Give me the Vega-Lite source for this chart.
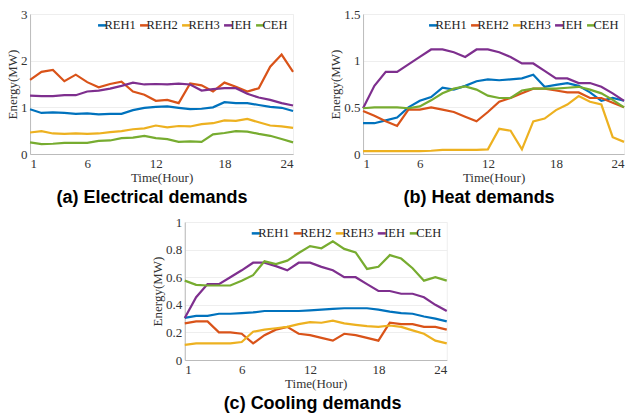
{
  "$schema": "https://vega.github.io/schema/vega-lite/v6.json",
  "padding": {"left": 6, "top": 7, "right": 0, "bottom": 0},
  "background": "white",
  "datasets": {
    "elec": [
      {"h":1,"s":"REH1","v":0.96},{"h":2,"s":"REH1","v":0.88},{"h":3,"s":"REH1","v":0.89},{"h":4,"s":"REH1","v":0.88},{"h":5,"s":"REH1","v":0.86},{"h":6,"s":"REH1","v":0.87},{"h":7,"s":"REH1","v":0.85},{"h":8,"s":"REH1","v":0.86},{"h":9,"s":"REH1","v":0.86},{"h":10,"s":"REH1","v":0.94},{"h":11,"s":"REH1","v":0.99},{"h":12,"s":"REH1","v":1.01},{"h":13,"s":"REH1","v":1.02},{"h":14,"s":"REH1","v":0.99},{"h":15,"s":"REH1","v":0.96},{"h":16,"s":"REH1","v":0.97},{"h":17,"s":"REH1","v":1.0},{"h":18,"s":"REH1","v":1.11},{"h":19,"s":"REH1","v":1.09},{"h":20,"s":"REH1","v":1.09},{"h":21,"s":"REH1","v":1.05},{"h":22,"s":"REH1","v":1.01},{"h":23,"s":"REH1","v":0.99},{"h":24,"s":"REH1","v":0.92},
      {"h":1,"s":"REH2","v":1.59},{"h":2,"s":"REH2","v":1.76},{"h":3,"s":"REH2","v":1.8},{"h":4,"s":"REH2","v":1.56},{"h":5,"s":"REH2","v":1.7},{"h":6,"s":"REH2","v":1.54},{"h":7,"s":"REH2","v":1.43},{"h":8,"s":"REH2","v":1.5},{"h":9,"s":"REH2","v":1.55},{"h":10,"s":"REH2","v":1.34},{"h":11,"s":"REH2","v":1.27},{"h":12,"s":"REH2","v":1.14},{"h":13,"s":"REH2","v":1.16},{"h":14,"s":"REH2","v":1.09},{"h":15,"s":"REH2","v":1.51},{"h":16,"s":"REH2","v":1.47},{"h":17,"s":"REH2","v":1.34},{"h":18,"s":"REH2","v":1.53},{"h":19,"s":"REH2","v":1.44},{"h":20,"s":"REH2","v":1.34},{"h":21,"s":"REH2","v":1.41},{"h":22,"s":"REH2","v":1.87},{"h":23,"s":"REH2","v":2.13},{"h":24,"s":"REH2","v":1.76},
      {"h":1,"s":"REH3","v":0.46},{"h":2,"s":"REH3","v":0.49},{"h":3,"s":"REH3","v":0.44},{"h":4,"s":"REH3","v":0.43},{"h":5,"s":"REH3","v":0.44},{"h":6,"s":"REH3","v":0.43},{"h":7,"s":"REH3","v":0.44},{"h":8,"s":"REH3","v":0.47},{"h":9,"s":"REH3","v":0.49},{"h":10,"s":"REH3","v":0.53},{"h":11,"s":"REH3","v":0.55},{"h":12,"s":"REH3","v":0.61},{"h":13,"s":"REH3","v":0.57},{"h":14,"s":"REH3","v":0.6},{"h":15,"s":"REH3","v":0.59},{"h":16,"s":"REH3","v":0.64},{"h":17,"s":"REH3","v":0.66},{"h":18,"s":"REH3","v":0.72},{"h":19,"s":"REH3","v":0.71},{"h":20,"s":"REH3","v":0.75},{"h":21,"s":"REH3","v":0.68},{"h":22,"s":"REH3","v":0.61},{"h":23,"s":"REH3","v":0.59},{"h":24,"s":"REH3","v":0.56},
      {"h":1,"s":"IEH","v":1.25},{"h":2,"s":"IEH","v":1.24},{"h":3,"s":"IEH","v":1.24},{"h":4,"s":"IEH","v":1.26},{"h":5,"s":"IEH","v":1.26},{"h":6,"s":"IEH","v":1.34},{"h":7,"s":"IEH","v":1.36},{"h":8,"s":"IEH","v":1.4},{"h":9,"s":"IEH","v":1.46},{"h":10,"s":"IEH","v":1.53},{"h":11,"s":"IEH","v":1.49},{"h":12,"s":"IEH","v":1.5},{"h":13,"s":"IEH","v":1.49},{"h":14,"s":"IEH","v":1.51},{"h":15,"s":"IEH","v":1.49},{"h":16,"s":"IEH","v":1.36},{"h":17,"s":"IEH","v":1.39},{"h":18,"s":"IEH","v":1.41},{"h":19,"s":"IEH","v":1.41},{"h":20,"s":"IEH","v":1.29},{"h":21,"s":"IEH","v":1.21},{"h":22,"s":"IEH","v":1.16},{"h":23,"s":"IEH","v":1.09},{"h":24,"s":"IEH","v":1.04},
      {"h":1,"s":"CEH","v":0.25},{"h":2,"s":"CEH","v":0.21},{"h":3,"s":"CEH","v":0.22},{"h":4,"s":"CEH","v":0.24},{"h":5,"s":"CEH","v":0.24},{"h":6,"s":"CEH","v":0.24},{"h":7,"s":"CEH","v":0.28},{"h":8,"s":"CEH","v":0.29},{"h":9,"s":"CEH","v":0.34},{"h":10,"s":"CEH","v":0.35},{"h":11,"s":"CEH","v":0.39},{"h":12,"s":"CEH","v":0.34},{"h":13,"s":"CEH","v":0.32},{"h":14,"s":"CEH","v":0.26},{"h":15,"s":"CEH","v":0.27},{"h":16,"s":"CEH","v":0.26},{"h":17,"s":"CEH","v":0.42},{"h":18,"s":"CEH","v":0.45},{"h":19,"s":"CEH","v":0.49},{"h":20,"s":"CEH","v":0.48},{"h":21,"s":"CEH","v":0.43},{"h":22,"s":"CEH","v":0.39},{"h":23,"s":"CEH","v":0.32},{"h":24,"s":"CEH","v":0.25}
    ],
    "heat": [
      {"h":1,"s":"REH1","v":0.33},{"h":2,"s":"REH1","v":0.33},{"h":3,"s":"REH1","v":0.36},{"h":4,"s":"REH1","v":0.39},{"h":5,"s":"REH1","v":0.5},{"h":6,"s":"REH1","v":0.57},{"h":7,"s":"REH1","v":0.61},{"h":8,"s":"REH1","v":0.71},{"h":9,"s":"REH1","v":0.69},{"h":10,"s":"REH1","v":0.73},{"h":11,"s":"REH1","v":0.78},{"h":12,"s":"REH1","v":0.8},{"h":13,"s":"REH1","v":0.79},{"h":14,"s":"REH1","v":0.8},{"h":15,"s":"REH1","v":0.81},{"h":16,"s":"REH1","v":0.85},{"h":17,"s":"REH1","v":0.72},{"h":18,"s":"REH1","v":0.74},{"h":19,"s":"REH1","v":0.76},{"h":20,"s":"REH1","v":0.73},{"h":21,"s":"REH1","v":0.66},{"h":22,"s":"REH1","v":0.57},{"h":23,"s":"REH1","v":0.6},{"h":24,"s":"REH1","v":0.57},
      {"h":1,"s":"REH2","v":0.46},{"h":2,"s":"REH2","v":0.41},{"h":3,"s":"REH2","v":0.35},{"h":4,"s":"REH2","v":0.3},{"h":5,"s":"REH2","v":0.475},{"h":6,"s":"REH2","v":0.475},{"h":7,"s":"REH2","v":0.5},{"h":8,"s":"REH2","v":0.475},{"h":9,"s":"REH2","v":0.45},{"h":10,"s":"REH2","v":0.4},{"h":11,"s":"REH2","v":0.35},{"h":12,"s":"REH2","v":0.45},{"h":13,"s":"REH2","v":0.56},{"h":14,"s":"REH2","v":0.6},{"h":15,"s":"REH2","v":0.65},{"h":16,"s":"REH2","v":0.7},{"h":17,"s":"REH2","v":0.7},{"h":18,"s":"REH2","v":0.68},{"h":19,"s":"REH2","v":0.66},{"h":20,"s":"REH2","v":0.66},{"h":21,"s":"REH2","v":0.6},{"h":22,"s":"REH2","v":0.6},{"h":23,"s":"REH2","v":0.55},{"h":24,"s":"REH2","v":0.5},
      {"h":1,"s":"REH3","v":0.03},{"h":2,"s":"REH3","v":0.03},{"h":3,"s":"REH3","v":0.03},{"h":4,"s":"REH3","v":0.03},{"h":5,"s":"REH3","v":0.03},{"h":6,"s":"REH3","v":0.03},{"h":7,"s":"REH3","v":0.035},{"h":8,"s":"REH3","v":0.045},{"h":9,"s":"REH3","v":0.045},{"h":10,"s":"REH3","v":0.045},{"h":11,"s":"REH3","v":0.045},{"h":12,"s":"REH3","v":0.05},{"h":13,"s":"REH3","v":0.27},{"h":14,"s":"REH3","v":0.25},{"h":15,"s":"REH3","v":0.05},{"h":16,"s":"REH3","v":0.35},{"h":17,"s":"REH3","v":0.38},{"h":18,"s":"REH3","v":0.47},{"h":19,"s":"REH3","v":0.53},{"h":20,"s":"REH3","v":0.62},{"h":21,"s":"REH3","v":0.56},{"h":22,"s":"REH3","v":0.53},{"h":23,"s":"REH3","v":0.18},{"h":24,"s":"REH3","v":0.13},
      {"h":1,"s":"IEH","v":0.49},{"h":2,"s":"IEH","v":0.73},{"h":3,"s":"IEH","v":0.88},{"h":4,"s":"IEH","v":0.88},{"h":5,"s":"IEH","v":0.96},{"h":6,"s":"IEH","v":1.04},{"h":7,"s":"IEH","v":1.12},{"h":8,"s":"IEH","v":1.12},{"h":9,"s":"IEH","v":1.09},{"h":10,"s":"IEH","v":1.04},{"h":11,"s":"IEH","v":1.12},{"h":12,"s":"IEH","v":1.12},{"h":13,"s":"IEH","v":1.09},{"h":14,"s":"IEH","v":1.04},{"h":15,"s":"IEH","v":0.97},{"h":16,"s":"IEH","v":0.97},{"h":17,"s":"IEH","v":0.89},{"h":18,"s":"IEH","v":0.81},{"h":19,"s":"IEH","v":0.81},{"h":20,"s":"IEH","v":0.76},{"h":21,"s":"IEH","v":0.76},{"h":22,"s":"IEH","v":0.72},{"h":23,"s":"IEH","v":0.65},{"h":24,"s":"IEH","v":0.57},
      {"h":1,"s":"CEH","v":0.49},{"h":2,"s":"CEH","v":0.5},{"h":3,"s":"CEH","v":0.5},{"h":4,"s":"CEH","v":0.5},{"h":5,"s":"CEH","v":0.49},{"h":6,"s":"CEH","v":0.51},{"h":7,"s":"CEH","v":0.575},{"h":8,"s":"CEH","v":0.65},{"h":9,"s":"CEH","v":0.7},{"h":10,"s":"CEH","v":0.725},{"h":11,"s":"CEH","v":0.69},{"h":12,"s":"CEH","v":0.625},{"h":13,"s":"CEH","v":0.6},{"h":14,"s":"CEH","v":0.6},{"h":15,"s":"CEH","v":0.68},{"h":16,"s":"CEH","v":0.7},{"h":17,"s":"CEH","v":0.7},{"h":18,"s":"CEH","v":0.7},{"h":19,"s":"CEH","v":0.71},{"h":20,"s":"CEH","v":0.72},{"h":21,"s":"CEH","v":0.69},{"h":22,"s":"CEH","v":0.65},{"h":23,"s":"CEH","v":0.58},{"h":24,"s":"CEH","v":0.5}
    ],
    "cool": [
      {"h":1,"s":"REH1","v":0.305},{"h":2,"s":"REH1","v":0.32},{"h":3,"s":"REH1","v":0.32},{"h":4,"s":"REH1","v":0.335},{"h":5,"s":"REH1","v":0.335},{"h":6,"s":"REH1","v":0.34},{"h":7,"s":"REH1","v":0.345},{"h":8,"s":"REH1","v":0.355},{"h":9,"s":"REH1","v":0.355},{"h":10,"s":"REH1","v":0.355},{"h":11,"s":"REH1","v":0.355},{"h":12,"s":"REH1","v":0.36},{"h":13,"s":"REH1","v":0.365},{"h":14,"s":"REH1","v":0.37},{"h":15,"s":"REH1","v":0.375},{"h":16,"s":"REH1","v":0.375},{"h":17,"s":"REH1","v":0.375},{"h":18,"s":"REH1","v":0.365},{"h":19,"s":"REH1","v":0.35},{"h":20,"s":"REH1","v":0.34},{"h":21,"s":"REH1","v":0.335},{"h":22,"s":"REH1","v":0.315},{"h":23,"s":"REH1","v":0.3},{"h":24,"s":"REH1","v":0.28},
      {"h":1,"s":"REH2","v":0.265},{"h":2,"s":"REH2","v":0.28},{"h":3,"s":"REH2","v":0.28},{"h":4,"s":"REH2","v":0.2},{"h":5,"s":"REH2","v":0.2},{"h":6,"s":"REH2","v":0.19},{"h":7,"s":"REH2","v":0.12},{"h":8,"s":"REH2","v":0.18},{"h":9,"s":"REH2","v":0.22},{"h":10,"s":"REH2","v":0.24},{"h":11,"s":"REH2","v":0.19},{"h":12,"s":"REH2","v":0.18},{"h":13,"s":"REH2","v":0.16},{"h":14,"s":"REH2","v":0.14},{"h":15,"s":"REH2","v":0.19},{"h":16,"s":"REH2","v":0.18},{"h":17,"s":"REH2","v":0.16},{"h":18,"s":"REH2","v":0.14},{"h":19,"s":"REH2","v":0.27},{"h":20,"s":"REH2","v":0.26},{"h":21,"s":"REH2","v":0.26},{"h":22,"s":"REH2","v":0.24},{"h":23,"s":"REH2","v":0.24},{"h":24,"s":"REH2","v":0.22},
      {"h":1,"s":"REH3","v":0.11},{"h":2,"s":"REH3","v":0.12},{"h":3,"s":"REH3","v":0.12},{"h":4,"s":"REH3","v":0.12},{"h":5,"s":"REH3","v":0.12},{"h":6,"s":"REH3","v":0.13},{"h":7,"s":"REH3","v":0.205},{"h":8,"s":"REH3","v":0.22},{"h":9,"s":"REH3","v":0.23},{"h":10,"s":"REH3","v":0.24},{"h":11,"s":"REH3","v":0.26},{"h":12,"s":"REH3","v":0.275},{"h":13,"s":"REH3","v":0.27},{"h":14,"s":"REH3","v":0.285},{"h":15,"s":"REH3","v":0.265},{"h":16,"s":"REH3","v":0.255},{"h":17,"s":"REH3","v":0.245},{"h":18,"s":"REH3","v":0.24},{"h":19,"s":"REH3","v":0.25},{"h":20,"s":"REH3","v":0.24},{"h":21,"s":"REH3","v":0.215},{"h":22,"s":"REH3","v":0.19},{"h":23,"s":"REH3","v":0.14},{"h":24,"s":"REH3","v":0.12},
      {"h":1,"s":"IEH","v":0.305},{"h":2,"s":"IEH","v":0.455},{"h":3,"s":"IEH","v":0.55},{"h":4,"s":"IEH","v":0.55},{"h":5,"s":"IEH","v":0.6},{"h":6,"s":"IEH","v":0.65},{"h":7,"s":"IEH","v":0.705},{"h":8,"s":"IEH","v":0.705},{"h":9,"s":"IEH","v":0.68},{"h":10,"s":"IEH","v":0.65},{"h":11,"s":"IEH","v":0.705},{"h":12,"s":"IEH","v":0.705},{"h":13,"s":"IEH","v":0.675},{"h":14,"s":"IEH","v":0.65},{"h":15,"s":"IEH","v":0.6},{"h":16,"s":"IEH","v":0.6},{"h":17,"s":"IEH","v":0.55},{"h":18,"s":"IEH","v":0.5},{"h":19,"s":"IEH","v":0.5},{"h":20,"s":"IEH","v":0.48},{"h":21,"s":"IEH","v":0.48},{"h":22,"s":"IEH","v":0.455},{"h":23,"s":"IEH","v":0.4},{"h":24,"s":"IEH","v":0.355},
      {"h":1,"s":"CEH","v":0.575},{"h":2,"s":"CEH","v":0.545},{"h":3,"s":"CEH","v":0.54},{"h":4,"s":"CEH","v":0.54},{"h":5,"s":"CEH","v":0.54},{"h":6,"s":"CEH","v":0.575},{"h":7,"s":"CEH","v":0.615},{"h":8,"s":"CEH","v":0.715},{"h":9,"s":"CEH","v":0.695},{"h":10,"s":"CEH","v":0.72},{"h":11,"s":"CEH","v":0.775},{"h":12,"s":"CEH","v":0.825},{"h":13,"s":"CEH","v":0.81},{"h":14,"s":"CEH","v":0.86},{"h":15,"s":"CEH","v":0.805},{"h":16,"s":"CEH","v":0.78},{"h":17,"s":"CEH","v":0.66},{"h":18,"s":"CEH","v":0.675},{"h":19,"s":"CEH","v":0.76},{"h":20,"s":"CEH","v":0.735},{"h":21,"s":"CEH","v":0.665},{"h":22,"s":"CEH","v":0.575},{"h":23,"s":"CEH","v":0.6},{"h":24,"s":"CEH","v":0.575}
    ]
  },
  "vconcat": [
    {
      "hconcat": [
        {
          "width": 263, "height": 140,
          "data": {"name": "elec"},
          "title": {"text": "(a)  Electrical demands"},
          "mark": {"type": "line", "strokeWidth": 2.2},
          "encoding": {
            "x": {"field": "h", "type": "quantitative", "scale": {"domain": [1, 24], "nice": false}, "axis": {"values": [1, 6, 12, 18, 24], "title": "Time(Hour)", "grid": false}},
            "y": {"field": "v", "type": "quantitative", "scale": {"domain": [0, 3], "nice": false}, "axis": {"values": [0, 1, 2, 3], "title": "Energy(MW)", "format": "~g"}},
            "color": {"field": "s", "type": "nominal", "sort": ["REH1", "REH2", "REH3", "IEH", "CEH"], "scale": {"domain": ["REH1", "REH2", "REH3", "IEH", "CEH"], "range": ["#0072BD", "#D95319", "#EDB120", "#7E2F8E", "#77AC30"]}, "legend": {"orient": "top-right", "direction": "horizontal", "title": null}}
          }
        },
        {
          "width": 261, "height": 140,
          "data": {"name": "heat"},
          "title": {"text": "(b)  Heat demands"},
          "mark": {"type": "line", "strokeWidth": 2.2},
          "encoding": {
            "x": {"field": "h", "type": "quantitative", "scale": {"domain": [1, 24], "nice": false}, "axis": {"values": [1, 6, 12, 18, 24], "title": "Time(Hour)", "grid": false}},
            "y": {"field": "v", "type": "quantitative", "scale": {"domain": [0, 1.5], "nice": false}, "axis": {"values": [0, 0.5, 1, 1.5], "title": "Energy(MW)", "format": "~g"}},
            "color": {"field": "s", "type": "nominal", "sort": ["REH1", "REH2", "REH3", "IEH", "CEH"], "scale": {"domain": ["REH1", "REH2", "REH3", "IEH", "CEH"], "range": ["#0072BD", "#D95319", "#EDB120", "#7E2F8E", "#77AC30"]}, "legend": {"orient": "top-right", "direction": "horizontal", "title": null}}
          }
        }
      ],
      "spacing": 31,
      "resolve": {"scale": {"color": "independent"}, "legend": {"color": "independent"}}
    },
    {
      "width": 262, "height": 138,
      "data": {"name": "cool"},
      "title": {"text": "(c)  Cooling demands"},
      "mark": {"type": "line", "strokeWidth": 2.2},
      "encoding": {
        "x": {"field": "h", "type": "quantitative", "scale": {"domain": [1, 24], "nice": false}, "axis": {"values": [1, 6, 12, 18, 24], "title": "Time(Hour)", "grid": false}},
        "y": {"field": "v", "type": "quantitative", "scale": {"domain": [0, 1], "nice": false}, "axis": {"values": [0, 0.2, 0.4, 0.6, 0.8, 1], "title": "Energy(MW)", "format": "~g"}},
        "color": {"field": "s", "type": "nominal", "sort": ["REH1", "REH2", "REH3", "IEH", "CEH"], "scale": {"domain": ["REH1", "REH2", "REH3", "IEH", "CEH"], "range": ["#0072BD", "#D95319", "#EDB120", "#7E2F8E", "#77AC30"]}, "legend": {"orient": "top-right", "direction": "horizontal", "title": null, "offset": -27, "padding": 32}}
      }
    }
  ],
  "spacing": -14,
  "center": true,
  "resolve": {"scale": {"color": "independent"}, "legend": {"color": "independent"}},
  "config": {
    "font": "Liberation Serif",
    "view": {"stroke": "#eeeeee"},
    "axis": {
      "labelFont": "Liberation Serif", "titleFont": "Liberation Serif",
      "labelFontSize": 13, "titleFontSize": 13, "titleFontWeight": "normal",
      "labelColor": "#333333", "titleColor": "#333333",
      "gridColor": "#eeeeee", "domainColor": "#bbbbbb", "ticks": false, "labelPadding": 3, "titlePadding": 1
    },
    "legend": {
      "labelFont": "Liberation Serif", "labelFontSize": 12.5, "labelColor": "#222222",
      "symbolType": "stroke", "symbolStrokeWidth": 2.5, "symbolSize": 64,
      "columnPadding": -1, "symbolOffset": -2.25, "labelOffset": -3.8, "offset": 5, "padding": 0
    },
    "title": {"font": "Liberation Sans", "fontSize": 18, "fontWeight": "bold", "color": "#000000", "orient": "bottom", "frame": "bounds", "anchor": "middle", "offset": 5}
  }
}
